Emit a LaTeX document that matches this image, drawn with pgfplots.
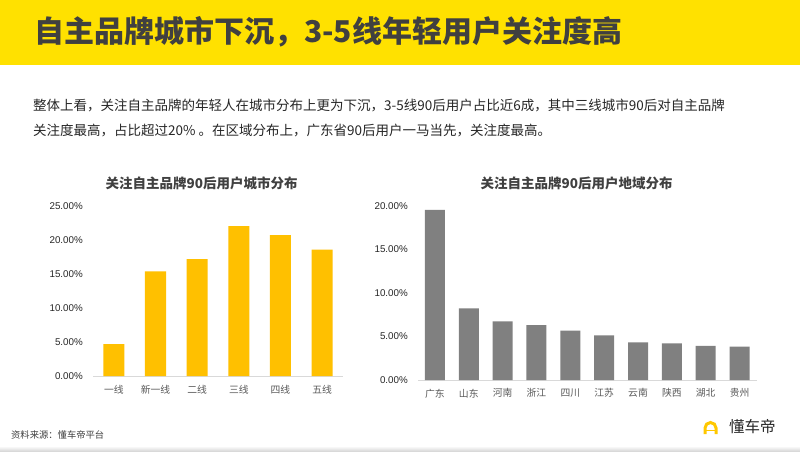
\documentclass[border=0pt]{standalone}
\usepackage{pgfplots}
\pgfplotsset{compat=1.18}
\usepackage{fontspec}
\setmainfont{Noto Sans CJK SC}
\newfontfamily\cjk{Noto Sans CJK SC}
\newfontfamily\arial{Liberation Sans}
\definecolor{ybg}{HTML}{FFE100}
\definecolor{gold}{HTML}{FFC000}
\definecolor{gbar}{HTML}{808080}
\definecolor{dark}{HTML}{404040}
\definecolor{mid}{HTML}{595959}
\definecolor{txt}{HTML}{262626}
\definecolor{axgray}{HTML}{D9D9D9}
\definecolor{logoy}{HTML}{FFC800}
\pgfplotsset{
  mybars/.style={
    scale only axis, anchor=south west,
    axis x line*=bottom, axis y line*=left,
    y axis line style={draw=none},
    x axis line style={draw=axgray, line width=0.8pt},
    tick style={draw=none},
    major tick length=0pt,
    ymin=0,
    ybar,
    yticklabel style={font=\arial\fontsize{9.8}{11}\selectfont, text=txt, inner sep=0pt, xshift=-10pt},
    xticklabel style={font=\cjk\fontsize{9.8}{11}\selectfont, text=mid, inner sep=0pt, anchor=north},
  }
}
\begin{document}
\begin{tikzpicture}[x=1pt,y=1pt]
\path[use as bounding box] (0,0) rectangle (800,-451);
\fill[white] (0,0) rectangle (800,-451);
\fill[ybg] (0,0) rectangle (800,-65);
\node[anchor=west, inner sep=0pt, text=dark, font=\fontsize{30}{32}\selectfont\bfseries] at (34,-31.5) {自主品牌城市下沉，3-5线年轻用户关注度高};
\node[anchor=west, inner sep=0pt, text=txt, font=\fontsize{13.5}{16}\selectfont] at (33,-105) {整体上看，关注自主品牌的年轻人在城市分布上更为下沉，3-5线90后用户占比近6成，其中三线城市90后对自主品牌};
\node[anchor=west, inner sep=0pt, text=txt, font=\fontsize{13.5}{16}\selectfont] at (33,-131) {关注度最高，占比超过20\% 。在区域分布上，广东省90后用户一马当先，关注度最高。};
% chart titles
\node[inner sep=0pt, text=dark, font=\fontsize{13.5}{15}\selectfont\bfseries] at (201.7,-183) {关注自主品牌90后用户城市分布};
\node[inner sep=0pt, text=dark, font=\fontsize{13.5}{15}\selectfont\bfseries] at (576.7,-183) {关注自主品牌90后用户地域分布};
% left chart
\begin{axis}[mybars, at={(93pt,-376pt)}, width=250pt, height=170pt,
  xmin=-0.5, xmax=5.5, ymax=25, bar width=21pt,
  ytick={0,5,10,15,20,25},
  yticklabels={0.00\%,5.00\%,10.00\%,15.00\%,20.00\%,25.00\%},
  xtick={0,1,2,3,4,5},
  xticklabels={一线,新一线,二线,三线,四线,五线},
  xticklabel style={yshift=-9pt}]
\addplot[fill=gold, draw=none] coordinates {(0,4.7) (1,15.4) (2,17.2) (3,22.05) (4,20.7) (5,18.6)};
\end{axis}
% right chart
\begin{axis}[mybars, at={(418pt,-380pt)}, width=338.5pt, height=174pt,
  xmin=-0.5, xmax=9.5, ymax=20, bar width=20pt,
  ytick={0,5,10,15,20},
  yticklabels={0.00\%,5.00\%,10.00\%,15.00\%,20.00\%},
  xtick={0,1,2,3,4,5,6,7,8,9},
  xticklabels={广东,山东,河南,浙江,四川,江苏,云南,陕西,湖北,贵州},
  xticklabel style={yshift=-8.5pt}]
\addplot[fill=gbar, draw=none] coordinates {(0,19.55) (1,8.24) (2,6.74) (3,6.32) (4,5.67) (5,5.13) (6,4.33) (7,4.21) (8,3.91) (9,3.83)};
\end{axis}
% footer
\node[anchor=west, inner sep=0pt, text=dark, font=\fontsize{9.3}{10}\selectfont] at (11,-435) {资料来源：懂车帝平台};
\shade[top color=white, bottom color=black!15] (0,-446) rectangle (800,-451);
% logo
\draw[logoy, line width=3pt] (705,-434) -- (705,-428) arc(180:0:5.5) -- (716,-434);
\draw[logoy, line width=1.6pt] (706,-430.5) -- (715,-430.5);
\node[anchor=west, inner sep=0pt, text=txt, font=\fontsize{15.5}{17}\selectfont] at (729,-427) {懂车帝};
\end{tikzpicture}
\end{document}
